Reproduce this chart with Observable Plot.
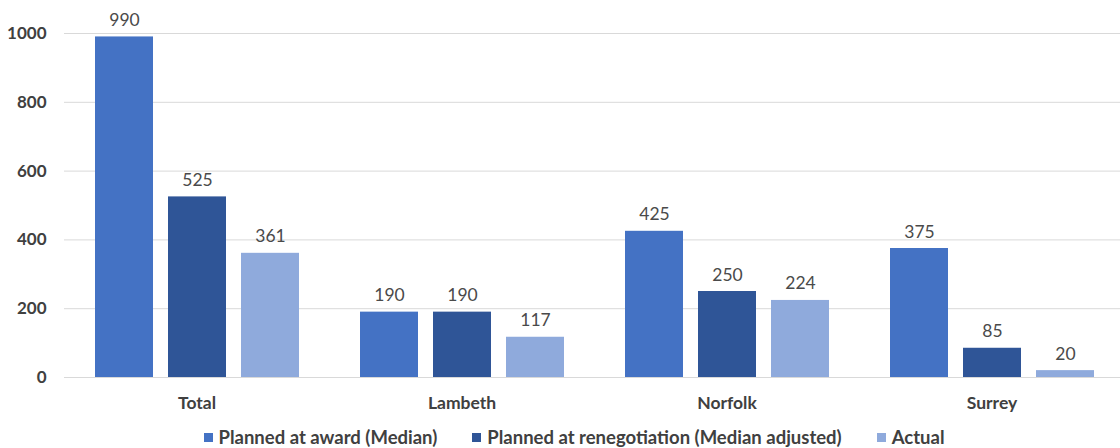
<!DOCTYPE html>
<html>
<head>
<meta charset="utf-8">
<script src="https://cdn.jsdelivr.net/npm/d3@7"></script>
<script src="https://cdn.jsdelivr.net/npm/@observablehq/plot@0.6"></script>
<style>
  body { margin: 0; background: #fff; font-family: Lato, "Open Sans", sans-serif; overflow: hidden; }
  #chart svg { display: block; }
  .legend { display: flex; justify-content: center; gap: 35px; margin-left: 28px; margin-top: 6px;
            font: bold 18.5px Lato, "Open Sans", sans-serif; color: #404040; }
  .legend span.item { display: inline-flex; align-items: center; }
  .legend span.sw { display: inline-block; width: 9px; height: 9px; margin-right: 6px; }
</style>
</head>
<body>
<div id="chart"></div>
<script>
// Units by area: planned at award, planned at renegotiation, and actual
const areas = ["Total", "Lambeth", "Norfolk", "Surrey"];
const series = ["Planned at award (Median)", "Planned at renegotiation (Median adjusted)", "Actual"];
const awardValues = [990, 190, 425, 375];
const renegotiationValues = [525, 190, 250, 85];
const actualValues = [361, 117, 224, 20];
const colors = ["#4472C4", "#2F5597", "#8FAADC"];
const yTicks = [0, 200, 400, 600, 800, 1000];

const rows = [];
areas.forEach((a, i) => {
  [awardValues, renegotiationValues, actualValues].forEach((vals, j) => {
    rows.push({area: a, series: series[j], value: vals[i]});
  });
});

const chart = Plot.plot({
  width: 1120,
  height: 420,
  marginLeft: 64,
  marginRight: -4,
  marginTop: 33,
  marginBottom: 43,
  style: {fontFamily: "Lato, 'Open Sans', sans-serif", overflow: "hidden"},
  fx: {domain: areas, padding: 0, label: null, axis: null},
  x: {domain: series, paddingInner: 0.21, paddingOuter: 0.42, axis: null},
  y: {domain: [0, 1000], axis: null, label: null},
  color: {domain: series, range: colors},
  marks: [
    Plot.gridY(yTicks, {stroke: "#d9d9d9", strokeOpacity: 1, strokeWidth: 1}),
    Plot.barY(rows, {fx: "area", x: "series", y: "value", fill: "series"}),
    Plot.text(rows, {fx: "area", x: "series", y: "value", text: d => String(d.value),
      lineAnchor: "bottom", dy: -11, fontSize: 17.5, fill: "#4a4a4a"}),
    Plot.axisY(yTicks, {tickSize: 0, tickPadding: 18, fontSize: 17, fontWeight: "bold",
      fill: "#404040", tickFormat: d => String(d), label: null, facetAnchor: "left"}),
    Plot.axisFx({anchor: "bottom", tickSize: 0, tickPadding: 19, fontSize: 17.5, fontWeight: "bold",
      fill: "#404040", label: null})
  ]
});
document.getElementById("chart").appendChild(chart);

// Legend below the chart
const legend = d3.select("body").append("div").attr("class", "legend");
series.forEach((s, i) => {
  const item = legend.append("span").attr("class", "item");
  item.append("span").attr("class", "sw").style("background", colors[i]);
  item.append("span").text(s);
});
</script>
</body>
</html>
